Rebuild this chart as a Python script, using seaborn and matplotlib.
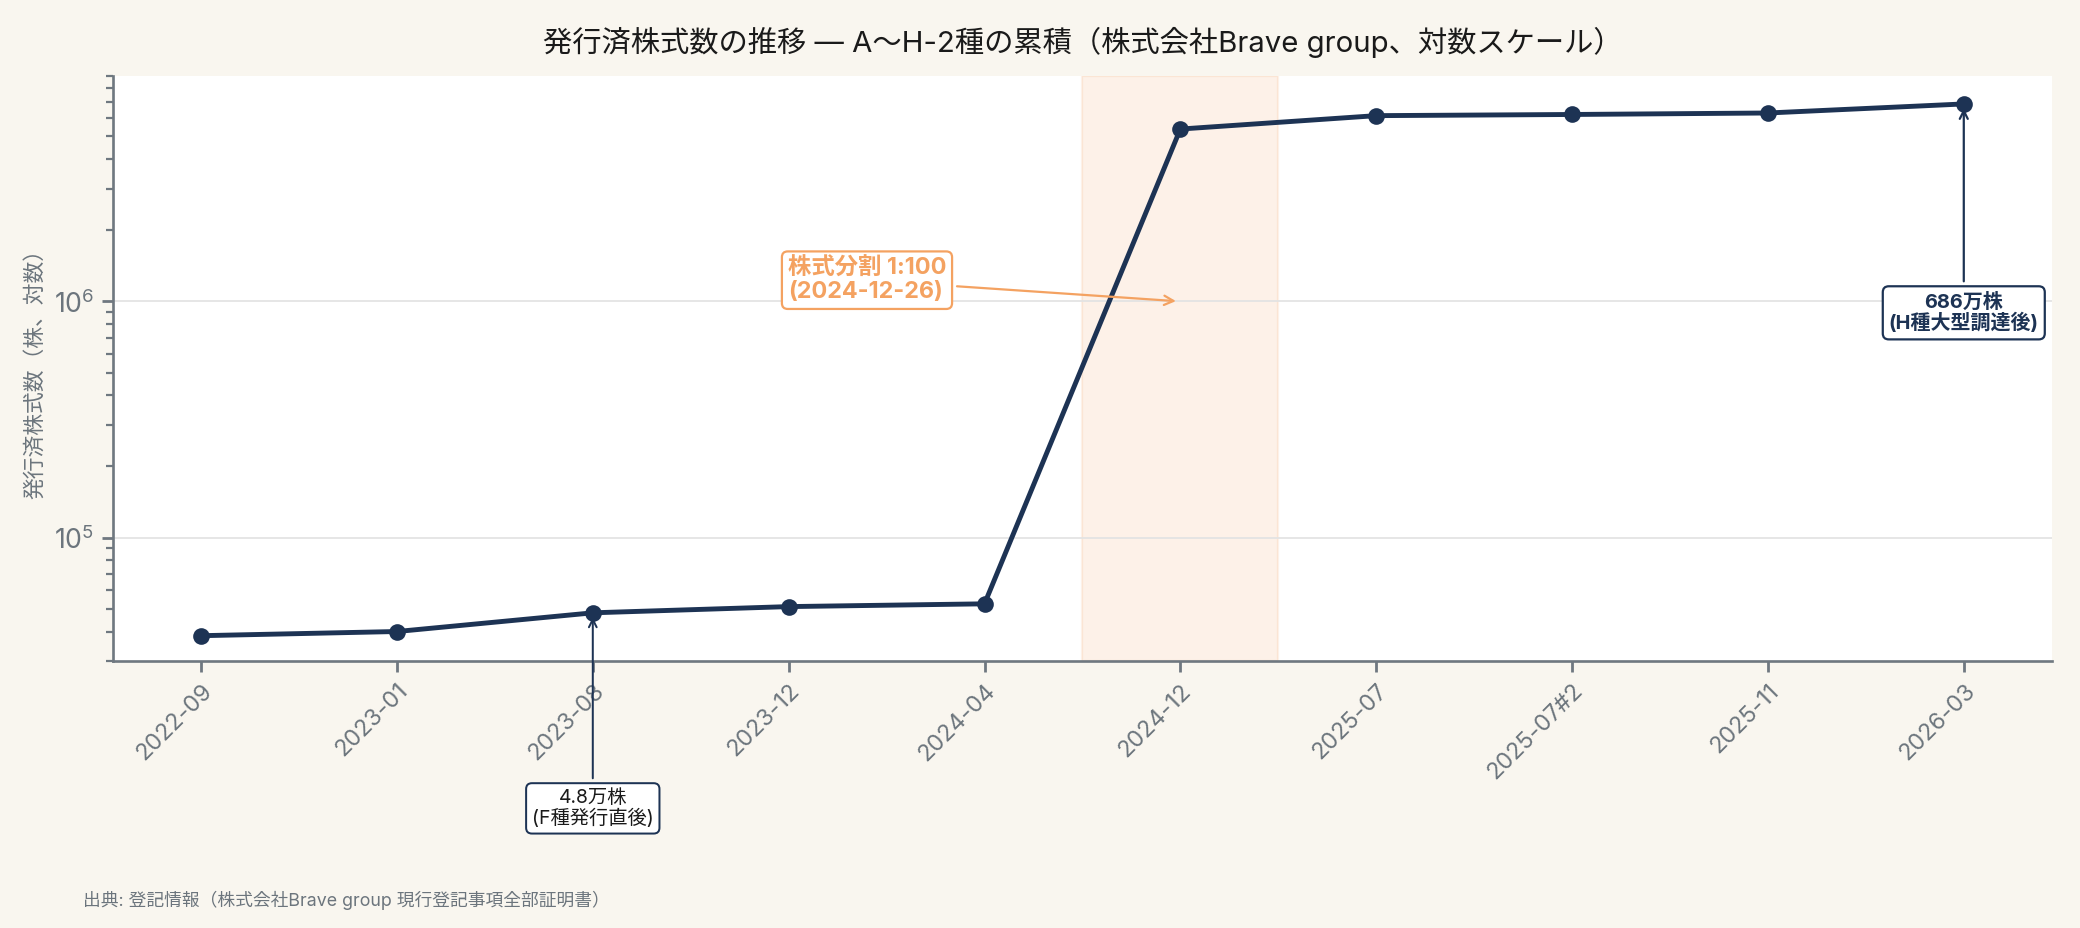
import pandas as pd
import matplotlib.pyplot as plt
import seaborn as sns

# 発行済株式数（株）— 登記ごとの推移
periods = ['2022-09', '2023-01', '2023-08', '2023-12', '2024-04',
           '2024-12', '2025-07', '2025-07#2', '2025-11', '2026-03']
shares = [38400, 40000, 48000, 51000, 52400,
          5370000, 6120000, 6190000, 6280000, 6860000]

df = pd.DataFrame({'period': periods, 'shares': shares})

NAVY = '#1d3354'
ORANGE = '#f4a261'
GREY = '#6c757d'

sns.set_theme(style="white")
plt.rcParams['font.family'] = ['Inter', 'Noto Sans CJK JP', 'DejaVu Sans']

fig, ax = plt.subplots(figsize=(13, 5.8), dpi=160)
fig.patch.set_facecolor('#f9f6ef')
ax.set_facecolor('white')
fig.subplots_adjust(left=0.0543, right=0.9865, top=0.918, bottom=0.2877)

sns.lineplot(x='period', y='shares', data=df, sort=False, marker='o',
             color=NAVY, linewidth=2.2, markersize=7.5, markeredgewidth=0, ax=ax)
ax.set_yscale('log')
ax.set_ylim(30000, 9000000)
ax.set_xlim(-0.45, len(periods) - 0.55)

# 株式分割の期間
ax.axvspan(4.5, 5.5, color=ORANGE, alpha=0.14, zorder=0)

ax.grid(axis='y', which='major', color='#e3e3e3', linewidth=0.8)
ax.set_axisbelow(True)

for s in ['top', 'right']:
    ax.spines[s].set_visible(False)
for s in ['left', 'bottom']:
    ax.spines[s].set_color('#6f7880')
    ax.spines[s].set_linewidth(1.2)

ax.tick_params(axis='both', which='both', colors='#6f7880', labelcolor=GREY,
               left=True, bottom=True)
ax.tick_params(axis='y', which='major', length=5, labelsize=12)
ax.tick_params(axis='y', which='minor', length=3)
ax.tick_params(axis='x', length=5, labelsize=10.5)
plt.setp(ax.get_xticklabels(), rotation=45, ha='right', rotation_mode='anchor')

ax.set_xlabel('')
ax.set_ylabel('発行済株式数（株、対数）', color=GREY, fontsize=9.8)
ax.set_title('発行済株式数の推移 — A〜H-2種の累積（株式会社Brave group、対数スケール）',
             fontsize=13.2, color='#1a1a1a', pad=11)

# 注記
ax.annotate('株式分割 1:100\n(2024-12-26)', xy=(5, 1000000), xytext=(3.4, 1230000),
            ha='center', va='center', multialignment='left', fontsize=10.5,
            fontweight='bold', color=ORANGE, linespacing=1.1,
            bbox=dict(boxstyle='round,pad=0.25', fc='white', ec=ORANGE, lw=1),
            arrowprops=dict(arrowstyle='->', color=ORANGE, lw=1))

ax.annotate('4.8万株\n(F種発行直後)', xy=(2, shares[2]), xytext=(0, -88),
            textcoords='offset points', ha='center', va='center', fontsize=8.7,
            color='#1a1a1a', linespacing=1.1,
            bbox=dict(boxstyle='round,pad=0.3', fc='white', ec=NAVY, lw=0.9),
            arrowprops=dict(arrowstyle='->', color=NAVY, lw=0.9))

ax.annotate('686万株\n(H種大型調達後)', xy=(9, shares[9]), xytext=(0, -94),
            textcoords='offset points', ha='center', va='center', fontsize=9,
            fontweight='bold', color=NAVY, linespacing=1.1,
            bbox=dict(boxstyle='round,pad=0.3', fc='white', ec=NAVY, lw=1),
            arrowprops=dict(arrowstyle='->', color=NAVY, lw=1))

fig.text(0.04, 0.024, '出典: 登記情報（株式会社Brave group 現行登記事項全部証明書）',
         fontsize=8, color=GREY)

plt.savefig('out.png', dpi=160, facecolor=fig.get_facecolor())
